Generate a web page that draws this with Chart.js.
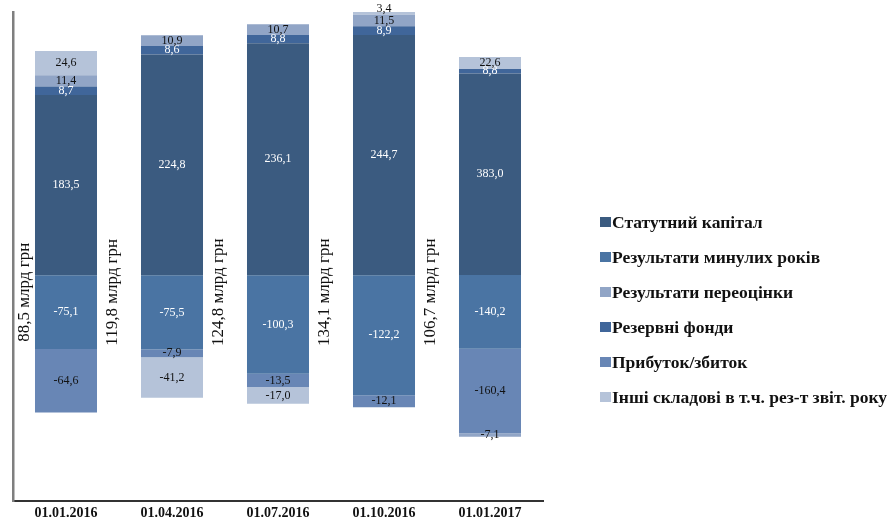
<!DOCTYPE html>
<html lang="uk">
<head>
<meta charset="utf-8">
<title>Складові власного капіталу банків</title>
<script src="https://cdn.jsdelivr.net/npm/chart.js@4.4.1/dist/chart.umd.min.js"></script>
<style>
  html, body { margin: 0; padding: 0; background: #fff; }
  #wrap { width: 891px; height: 526px; position: relative; }
</style>
</head>
<body>
<div id="wrap"><canvas id="chart"></canvas></div>
<script>
// дані, млрд грн
const categories = ['01.01.2016', '01.04.2016', '01.07.2016', '01.10.2016', '01.01.2017'];
const statutory   = [183.5, 224.8, 236.1, 244.7, 383.0];
const pastResults = [-75.1, -75.5, -100.3, -122.2, -140.2];
const revaluation = [11.4, 10.9, 10.7, 11.5, -7.1];
const reserves    = [8.7, 8.6, 8.8, 8.9, 8.8];
const profit      = [-64.6, -7.9, -13.5, -12.1, -160.4];
const other       = [24.6, -41.2, -17.0, 3.4, 22.6];
const totals      = [88.5, 119.8, 124.8, 134.1, 106.7];

// legend order
const seriesNames = [
    'Статутний капітал',
    'Результати минулих років',
    'Результати переоцінки',
    'Резервні фонди',
    'Прибуток/збиток',
    'Інші складові в т.ч. рез-т звіт. року'
];
const seriesData = [statutory, pastResults, revaluation, reserves, profit, other];
const seriesColors = ['#3b5b80', '#4a74a3', '#91a5c6', '#40669a', '#6886b5', '#b5c3d9'];
const labelColors = ['#fff', '#fff', '#111', '#fff', '#111', '#111'];
// order in which the segments are stacked from zero
const stackOrder = [0, 1, 3, 4, 2, 5];
// the last date is drawn on its own scale, as in the original
const ownScaleIndex = 4;

function fmt(v) {
    return v.toFixed(1).replace('.', ',');
}

const datasets = [];
stackOrder.forEach(s => {
    datasets.push({
        label: seriesNames[s],
        data: seriesData[s].map((v, i) => i === ownScaleIndex ? null : v),
        backgroundColor: seriesColors[s],
        labelColor: labelColors[s],
        yAxisID: 'y',
        stack: 'all'
    });
    datasets.push({
        label: seriesNames[s],
        data: seriesData[s].map((v, i) => i === ownScaleIndex ? v : null),
        backgroundColor: seriesColors[s],
        labelColor: labelColors[s],
        yAxisID: 'y2',
        stack: 'all'
    });
});

function isTopSegment(chart, dsIndex, j) {
    const all = chart.data.datasets;
    for (let k = dsIndex + 1; k < all.length; k++) {
        const v = all[k].data[j];
        if (all[k].yAxisID === all[dsIndex].yAxisID && v !== null && v > 0) return false;
    }
    return true;
}

const valueLabels = {
    id: 'valueLabels',
    afterDatasetsDraw(chart) {
        const ctx = chart.ctx;
        ctx.save();
        ctx.textAlign = 'center';
        ctx.textBaseline = 'middle';
        ctx.font = '12px "Liberation Serif"';
        chart.data.datasets.forEach((ds, i) => {
            const meta = chart.getDatasetMeta(i);
            meta.data.forEach((bar, j) => {
                const v = ds.data[j];
                if (v === null || v === undefined) return;
                const p = bar.getProps(['x', 'y', 'base'], true);
                let y = (p.y + p.base) / 2;
                // very thin top segment: label sits on the bar edge
                if (v > 0 && Math.abs(p.base - p.y) < 6 && isTopSegment(chart, i, j)) y = p.y - 3;
                ctx.fillStyle = ds.labelColor;
                ctx.fillText(fmt(v), p.x, y);
            });
        });
        ctx.restore();
    }
};

const totalLabels = {
    id: 'totalLabels',
    afterDatasetsDraw(chart) {
        const ctx = chart.ctx;
        const xs = chart.scales.x;
        const area = chart.chartArea;
        const catW = xs.getPixelForValue(1) - xs.getPixelForValue(0);
        const barW = catW * 0.585;
        const y = chart.scales.y.getPixelForValue(0) + 17;
        ctx.save();
        ctx.font = '17px "Liberation Serif"';
        ctx.fillStyle = '#111';
        ctx.textAlign = 'center';
        ctx.textBaseline = 'middle';
        totals.forEach((t, i) => {
            const cx = xs.getPixelForValue(i);
            const x = i === 0 ? (area.left + cx - barW / 2) / 2 + 1 : cx - catW * 0.56;
            ctx.save();
            ctx.translate(x, y);
            ctx.rotate(-Math.PI / 2);
            ctx.fillText(fmt(t) + ' млрд грн', 0, 0);
            ctx.restore();
        });
        ctx.restore();
    }
};

const sideLegend = {
    id: 'sideLegend',
    afterDraw(chart) {
        const ctx = chart.ctx;
        const left = chart.chartArea.right + 57;
        const top = 222;
        const step = 35;
        ctx.save();
        ctx.font = 'bold 17.5px "Liberation Serif"';
        ctx.textBaseline = 'middle';
        ctx.textAlign = 'left';
        seriesNames.forEach((name, i) => {
            const y = top + i * step;
            ctx.fillStyle = seriesColors[i];
            ctx.fillRect(left, y - 5, 11, 10);
            ctx.fillStyle = '#111';
            ctx.fillText(name, left + 12, y + 1);
        });
        ctx.restore();
    }
};

new Chart(document.getElementById('chart'), {
    type: 'bar',
    data: { labels: categories, datasets: datasets },
    options: {
        responsive: true,
        maintainAspectRatio: false,
        animation: false,
        barPercentage: 0.585,
        categoryPercentage: 1,
        layout: { padding: { top: 12, right: 348, bottom: 0, left: 13 } },
        plugins: {
            legend: { display: false },
            tooltip: { enabled: false }
        },
        scales: {
            x: {
                stacked: true,
                grid: { display: false, drawTicks: false },
                border: { display: true, color: '#333', width: 2 },
                ticks: {
                    padding: 4,
                    color: '#111',
                    font: { family: 'Liberation Serif', size: 14, weight: 'bold' }
                }
            },
            y: {
                stacked: true,
                min: -230,
                max: 268,
                grid: { display: false, drawTicks: false },
                border: { display: true, color: '#7f7f7f', width: 2.5 },
                ticks: { display: false }
            },
            y2: {
                stacked: true,
                display: false,
                min: -430,
                max: 500
            }
        }
    },
    plugins: [valueLabels, totalLabels, sideLegend]
});
</script>
</body>
</html>
